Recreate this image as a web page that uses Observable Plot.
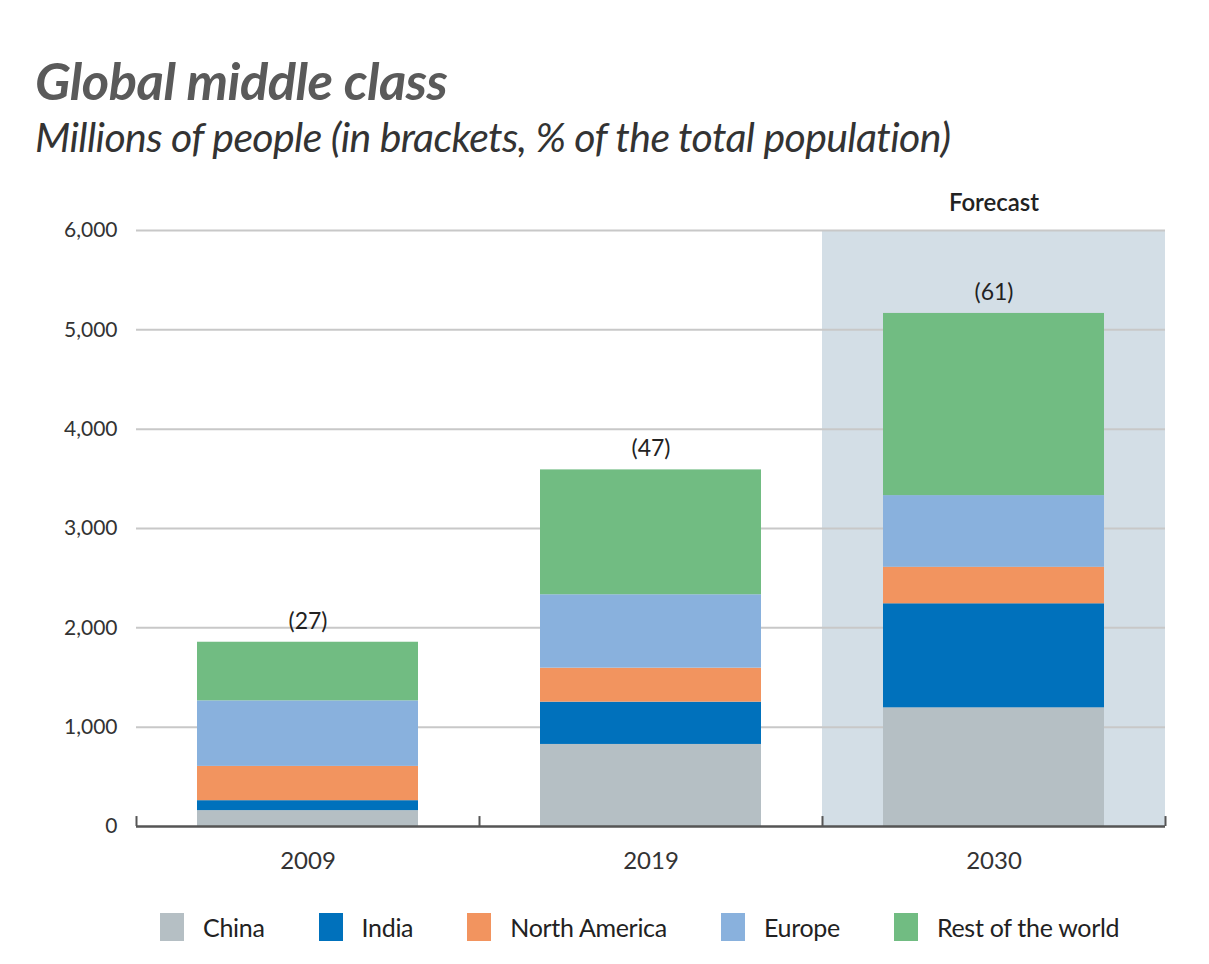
<!DOCTYPE html>
<html>
<head>
<meta charset="utf-8">
<script src="https://cdn.jsdelivr.net/npm/d3@7"></script>
<script src="https://cdn.jsdelivr.net/npm/@observablehq/plot@0.6"></script>
<style>
  body { margin: 0; background: #fff; font-family: Lato, "Open Sans", sans-serif; }
  #wrap { width: 1209px; height: 964px; position: relative; overflow: hidden; }
  #header { position: relative; height: 170px; }
  #title { position: absolute; left: 35px; top: 51px; font-size: 52.5px; line-height: 58px; font-weight: 700; font-style: italic; color: #5a5a5a; white-space: nowrap; letter-spacing: -0.5px; }
  #subtitle { position: absolute; left: 35px; top: 114px; font-size: 41px; line-height: 46px; font-style: italic; color: #333; white-space: nowrap; letter-spacing: -0.6px; }
  #chart svg { display: block; overflow: visible; }
  #legend { height: 74px; display: flex; align-items: center; padding-left: 160px; box-sizing: border-box; }
  .item { display: flex; align-items: center; margin-right: 54px; font-size: 25px; color: #222; letter-spacing: -0.3px; }
  .sw { width: 24px; height: 28px; margin-right: 19px; }
</style>
</head>
<body>
<div id="wrap">
  <div id="header">
    <div id="title"></div>
    <div id="subtitle"></div>
  </div>
  <div id="chart"></div>
  <div id="legend"></div>
</div>
<script>
const titleText = "Global middle class";
const subtitleText = "Millions of people (in brackets, % of the total population)";
const years = ["2009", "2019", "2030"];
const regions = ["China", "India", "North America", "Europe", "Rest of the world"];
const china = [160, 826, 1195];
const india = [100, 426, 1047];
const northAmerica = [345, 342, 368];
const europe = [660, 739, 721];
const restOfWorld = [590, 1257, 1834];
const shareLabels = ["(27)", "(47)", "(61)"];
const yTicks = [0, 1000, 2000, 3000, 4000, 5000, 6000];
const forecastYear = "2030";
const forecastLabel = "Forecast";
const colors = ["#b5bfc4", "#0071bc", "#f2945f", "#89b1dd", "#71bc82"];

document.getElementById("title").textContent = titleText;
document.getElementById("subtitle").textContent = subtitleText;

const series = [china, india, northAmerica, europe, restOfWorld];
const rows = years.flatMap((year, i) => regions.map((region, j) => ({year, region, value: series[j][i]})));
const totals = years.map((year, i) => ({year, total: d3.sum(series, s => s[i]), label: shareLabels[i]}));
const yMax = d3.max(yTicks);

const W = 1209, ML = 136, MR = 44;
const band = (W - ML - MR) / years.length;

const chart = Plot.plot({
  width: W,
  height: 720,
  marginLeft: ML,
  marginRight: MR,
  marginTop: 60,
  marginBottom: 64,
  style: {fontFamily: "Lato, 'Open Sans', sans-serif", background: "#fff", overflow: "visible"},
  x: {domain: years, padding: 0, axis: null},
  y: {domain: [0, yMax], axis: null},
  color: {domain: regions, range: colors},
  marks: [
    Plot.barY([{year: forecastYear, top: yMax}], {x: "year", y1: 0, y2: "top", fill: "#d3dee6"}),
    Plot.gridY(yTicks.filter(t => t > 0), {stroke: "#c8c8c8", strokeOpacity: 1, strokeWidth: 2}),
    Plot.barY(rows, {x: "year", y: "value", fill: "region", insetLeft: 61, insetRight: 61}),
    Plot.ruleY([0], {stroke: "#555", strokeWidth: 2.5}),
    Plot.ruleX(years, {x: d => d, dx: -band / 2, y1: 0, y2: 100, stroke: "#555", strokeWidth: 2}),
    Plot.ruleX([years[years.length - 1]], {x: d => d, dx: band / 2, y1: 0, y2: 100, stroke: "#555", strokeWidth: 2}),
    Plot.text(totals, {x: "year", y: "total", text: "label", dy: -21, fontSize: 23, fill: "#222"}),
    Plot.text([{year: forecastYear, top: yMax, label: forecastLabel}], {x: "year", y: "top", text: "label", dy: -27, fontSize: 24, fontWeight: 600, fill: "#222"}),
    Plot.axisY(yTicks, {tickSize: 0, tickPadding: 19, tickFormat: d3.format(","), fontSize: 21, fill: "#333", label: null}),
    Plot.axisX({tickSize: 0, tickPadding: 25, fontSize: 24, fill: "#333", label: null})
  ]
});
document.getElementById("chart").appendChild(chart);

const legend = document.getElementById("legend");
regions.forEach((r, i) => {
  const item = document.createElement("div");
  item.className = "item";
  const sw = document.createElement("div");
  sw.className = "sw";
  sw.style.background = colors[i];
  const t = document.createElement("span");
  t.textContent = r;
  item.appendChild(sw);
  item.appendChild(t);
  legend.appendChild(item);
});
</script>
</body>
</html>
